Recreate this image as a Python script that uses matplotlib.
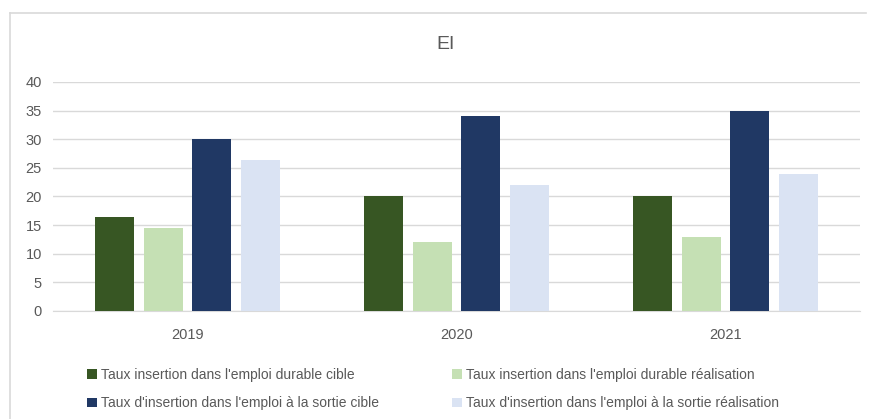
import numpy as np
import matplotlib.pyplot as plt
from matplotlib.lines import Line2D

plt.rcParams['font.family'] = ['Liberation Sans', 'DejaVu Sans']

annees = ['2019', '2020', '2021']
series = ["Taux insertion dans l'emploi durable cible",
          "Taux insertion dans l'emploi durable réalisation",
          "Taux d'insertion dans l'emploi à la sortie cible",
          "Taux d'insertion dans l'emploi à la sortie réalisation"]
durable_cible = [16.5, 20, 20]
durable_real = [14.5, 12, 13]
sortie_cible = [30, 34, 35]
sortie_real = [26.4, 22, 24]
couleurs = ['#375623', '#C5E0B4', '#203864', '#DAE3F3']

valeurs = [durable_cible, durable_real, sortie_cible, sortie_real]
gris = '#595959'

fig = plt.figure(figsize=(8.69, 4.19), dpi=100)
ax = fig.add_axes([0.061, 0.2578, 0.9286, 0.5465])

x = np.arange(len(annees))
larg = 0.145
pas = 0.18
barres = []
for i, (v, c) in enumerate(zip(valeurs, couleurs)):
    b = ax.bar(x + (i - 1.5) * pas, v, width=larg, color=c, label=series[i], zorder=3)
    barres.append(b)

ax.set_xlim(-0.5, 2.5)
ax.set_ylim(0, 40)
ax.set_yticks(range(0, 41, 5))
ax.set_xticks(x)
ax.set_xticklabels(annees)
ax.grid(axis='y', color='#D9D9D9', linewidth=1, zorder=0)
for s in ['top', 'right', 'left']:
    ax.spines[s].set_visible(False)
ax.spines['bottom'].set_color('#D9D9D9')
ax.tick_params(axis='both', length=0, colors=gris, labelsize=10.5)
ax.tick_params(axis='x', pad=12)
ax.tick_params(axis='y', pad=8)

fig.text(0.513, 0.893, 'EI', ha='center', va='center', fontsize=14, color=gris)

# ordre ligne par ligne comme dans Excel
ordre = [0, 2, 1, 3]
leg = fig.legend([barres[i] for i in ordre], [series[i] for i in ordre],
                 loc='upper left', bbox_to_anchor=(0.1005, 0.122), ncol=2, frameon=False,
                 borderpad=0, borderaxespad=0,
                 fontsize=10, handlelength=0.7, handleheight=0.7, handletextpad=0.3,
                 columnspacing=5.25, labelspacing=1.05)
for t in leg.get_texts():
    t.set_color(gris)

# cadre du graphique
fig.add_artist(Line2D([0.011, 0.011], [0, 0.969], color='#D9D9D9', lw=1.2))
fig.add_artist(Line2D([0.011, 0.997], [0.969, 0.969], color='#D9D9D9', lw=1.2))

fig.savefig('out.png', dpi=100)
